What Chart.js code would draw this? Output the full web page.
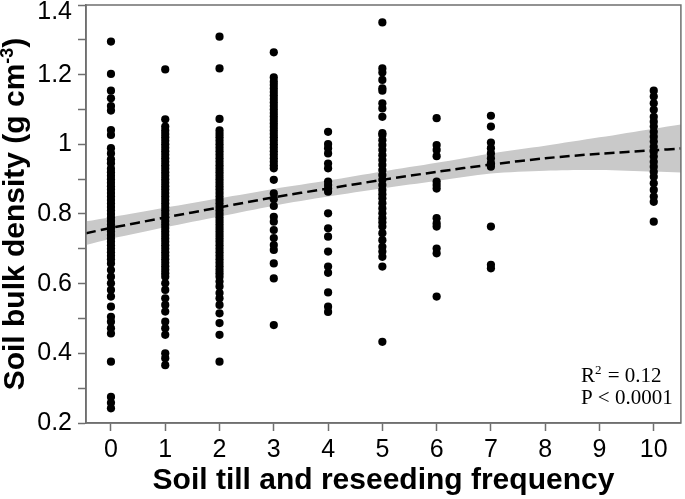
<!DOCTYPE html>
<html>
<head>
<meta charset="utf-8">
<script src="https://cdn.jsdelivr.net/npm/chart.js@4.4.1/dist/chart.umd.min.js"></script>
<style>
html,body{margin:0;padding:0;background:#fff;}
#wrap{width:685px;height:499px;position:relative;}
</style>
</head>
<body>
<div id="wrap"><canvas id="c" width="685" height="499"></canvas></div>
<script>
// ---- data ----
const frequencies = [0, 1, 2, 3, 4, 5, 6, 7, 10];

const bd0 = [1.295, 1.202, 1.154, 1.132, 1.110, 1.097, 1.041, 1.027, 0.989, 0.974, 0.957, 0.946,
  0.93, 0.92, 0.91, 0.90, 0.89, 0.88, 0.87, 0.86, 0.85, 0.84, 0.83, 0.82, 0.81, 0.80, 0.79,
  0.78, 0.77, 0.76, 0.75, 0.74, 0.73, 0.72, 0.71, 0.70, 0.69, 0.68, 0.67,
  0.658, 0.639, 0.620, 0.601, 0.582, 0.563, 0.534, 0.505, 0.491, 0.472, 0.457, 0.376, 0.275, 0.258, 0.242];
const bd1 = [1.215, 1.072, 1.051,
  1.04, 1.03, 1.02, 1.01, 1.00, 0.99, 0.98, 0.97, 0.96, 0.95, 0.94, 0.93, 0.92, 0.91, 0.90,
  0.89, 0.88, 0.87, 0.86, 0.85, 0.84, 0.83, 0.82, 0.81, 0.80, 0.79, 0.78, 0.77, 0.76, 0.75,
  0.74, 0.73, 0.72, 0.71, 0.70, 0.69, 0.68, 0.67, 0.66, 0.65, 0.64, 0.63, 0.62,
  0.601, 0.582, 0.558, 0.539, 0.520, 0.491, 0.472, 0.453, 0.400, 0.386, 0.366];
const bd2 = [1.309, 1.218, 1.073,
  1.04, 1.03, 1.02, 1.01, 1.00, 0.99, 0.98, 0.97, 0.96, 0.95, 0.94, 0.93, 0.92, 0.91, 0.90,
  0.89, 0.88, 0.87, 0.86, 0.85, 0.84, 0.83, 0.82, 0.81, 0.80, 0.79, 0.78, 0.77, 0.76, 0.75,
  0.74, 0.73, 0.72, 0.71, 0.70, 0.69, 0.68, 0.67, 0.66, 0.65, 0.64, 0.63, 0.62,
  0.606, 0.592, 0.573, 0.558, 0.539, 0.515, 0.487, 0.453, 0.376];
const bd3 = [1.264, 1.192,
  1.18, 1.17, 1.16, 1.15, 1.14, 1.13, 1.12, 1.11, 1.10, 1.09, 1.08, 1.07, 1.06, 1.05, 1.04,
  1.03, 1.02, 1.01, 1.00, 0.99, 0.98, 0.97, 0.96, 0.95, 0.94,
  0.931, 0.898, 0.859, 0.842, 0.823, 0.792, 0.778, 0.754, 0.731, 0.711, 0.697, 0.658, 0.615, 0.481];
const bd4 = [1.036, 1.001, 0.989, 0.974, 0.945, 0.931, 0.893, 0.883, 0.873, 0.864, 0.802,
  0.759, 0.735, 0.692, 0.649, 0.631, 0.575, 0.534, 0.519];
const bd5 = [1.350, 1.218, 1.206, 1.185, 1.161, 1.154, 1.118, 1.103, 1.079, 1.032, 1.027, 1.012,
  0.998, 0.984, 0.969, 0.955, 0.941, 0.926, 0.912, 0.898, 0.883, 0.869, 0.857, 0.845, 0.831,
  0.816, 0.802, 0.788, 0.776, 0.764, 0.745, 0.725, 0.706, 0.692, 0.677, 0.649, 0.433];
const bd6 = [1.075, 0.998, 0.984, 0.966, 0.893, 0.883, 0.873, 0.788, 0.773, 0.764, 0.701, 0.687, 0.563];
const bd7 = [1.082, 1.051, 1.005, 0.989, 0.974, 0.960, 0.946, 0.936, 0.764, 0.654, 0.644];
const bd10 = [1.154, 1.137, 1.118, 1.099, 1.079, 1.065, 1.051, 1.036, 1.022, 1.008, 0.993, 0.979,
  0.965, 0.950, 0.936, 0.921, 0.907, 0.888, 0.869, 0.850, 0.835, 0.778];
const bulkDensity = [bd0, bd1, bd2, bd3, bd4, bd5, bd6, bd7, bd10];

// fitted curve and its confidence band
const fitX   = [-0.46, 0, 1, 2, 3, 4, 5, 6, 7, 8, 9, 10, 10.5];
const fitY   = [0.745, 0.760, 0.790, 0.819, 0.848, 0.873, 0.898, 0.921, 0.942, 0.960, 0.973, 0.983, 0.988];
const ciLow  = [0.711, 0.729, 0.762, 0.793, 0.824, 0.850, 0.874, 0.895, 0.916, 0.924, 0.926, 0.921, 0.919];
const ciHigh = [0.779, 0.791, 0.818, 0.845, 0.872, 0.896, 0.922, 0.947, 0.974, 0.996, 1.020, 1.045, 1.057];

// axis ticks and texts
const xTickValues = [0, 1, 2, 3, 4, 5, 6, 7, 8, 9, 10];
const xTickLabels = ['0', '1', '2', '3', '4', '5', '6', '7', '8', '9', '10'];
const yTickValues = [0.2, 0.3, 0.4, 0.5, 0.6, 0.7, 0.8, 0.9, 1.0, 1.1, 1.2, 1.3, 1.4];
const yTickLabels = ['0.2', '', '0.4', '', '0.6', '', '0.8', '', '1', '', '1.2', '', '1.4'];

const xTitle = 'Soil till and reseeding frequency';
const yTitleParts = ['Soil bulk density (g cm', '-3', ')'];
const statLine1 = ['R', '2', ' = 0.12'];
const statLine2 = 'P < 0.0001';

// ---- chart ----
const SANS = '"Liberation Sans", Arial, Helvetica, sans-serif';
const SERIF = '"Liberation Serif", "Times New Roman", serif';
const AXIS_GREY = '#6f6f6f';

const points = [];
frequencies.forEach((f, i) => bulkDensity[i].forEach(v => points.push({x: f, y: v})));
const toXY = (ys) => fitX.map((x, i) => ({x: x, y: ys[i]}));

const framePlugin = {
  id: 'frameAndStats',
  afterDatasetsDraw(chart) {
    const {ctx, chartArea: a} = chart;
    ctx.save();
    ctx.strokeStyle = AXIS_GREY;
    ctx.lineWidth = 1.5;
    ctx.strokeRect(a.left, a.top, a.right - a.left, a.bottom - a.top);
    ctx.fillStyle = '#000';
    ctx.textBaseline = 'alphabetic';
    ctx.textAlign = 'left';
    const x0 = a.right - 100;
    const y1 = a.bottom - 41;
    const y2 = a.bottom - 19;
    ctx.font = '21px ' + SERIF;
    ctx.fillText(statLine1[0], x0, y1);
    let x = x0 + ctx.measureText(statLine1[0]).width;
    ctx.font = '13px ' + SERIF;
    ctx.fillText(statLine1[1], x, y1 - 8);
    x += ctx.measureText(statLine1[1]).width + 1;
    ctx.font = '21px ' + SERIF;
    ctx.fillText(statLine1[2], x, y1);
    ctx.fillText(statLine2, x0, y2);
    ctx.restore();
  },
  afterDraw(chart) {
    // y-axis title with a true superscript
    const {ctx, chartArea: a} = chart;
    const big = 'bold 30px ' + SANS;
    const small = 'bold 18px ' + SANS;
    ctx.save();
    ctx.fillStyle = '#000';
    ctx.textBaseline = 'alphabetic';
    ctx.textAlign = 'left';
    ctx.font = big;
    const w0 = ctx.measureText(yTitleParts[0]).width;
    const w2 = ctx.measureText(yTitleParts[2]).width;
    ctx.font = small;
    const w1 = ctx.measureText(yTitleParts[1]).width;
    const total = w0 + w1 + w2;
    const cy = (a.top + a.bottom) / 2;
    ctx.translate(24, cy);
    ctx.rotate(-Math.PI / 2);
    let x = -total / 2;
    ctx.font = big;
    ctx.fillText(yTitleParts[0], x, 0);
    x += w0;
    ctx.font = small;
    ctx.fillText(yTitleParts[1], x, -11);
    x += w1;
    ctx.font = big;
    ctx.fillText(yTitleParts[2], x, 0);
    ctx.restore();
  }
};

const isTopTick = (ctx) => ctx && ctx.tick && Math.abs(ctx.tick.value - 1.4) < 1e-6;

new Chart(document.getElementById('c'), {
  type: 'line',
  data: {
    datasets: [
      {
        label: 'fit',
        data: toXY(fitY),
        borderColor: '#000',
        borderWidth: 2.5,
        borderDash: [10, 5],
        pointRadius: 0,
        fill: false,
        tension: 0.3,
        order: 0
      },
      {
        label: 'samples',
        data: points,
        showLine: false,
        pointRadius: 4.1,
        pointBackgroundColor: '#000',
        pointBorderWidth: 0,
        pointBorderColor: '#000',
        order: 1
      },
      {
        label: 'ciHigh',
        data: toXY(ciHigh),
        borderColor: 'rgba(0,0,0,0)',
        borderWidth: 1,
        pointRadius: 0,
        backgroundColor: '#c9c9c9',
        fill: '+1',
        tension: 0.3,
        order: 2
      },
      {
        label: 'ciLow',
        data: toXY(ciLow),
        borderColor: 'rgba(0,0,0,0)',
        borderWidth: 1,
        pointRadius: 0,
        fill: false,
        tension: 0.3,
        order: 3
      }
    ]
  },
  options: {
    responsive: false,
    animation: false,
    devicePixelRatio: 1,
    layout: {padding: {top: 5, right: 2, left: 0, bottom: 0}},
    plugins: {legend: {display: false}, tooltip: {enabled: false}},
    scales: {
      x: {
        type: 'linear',
        min: -0.46,
        max: 10.5,
        afterBuildTicks: s => { s.ticks = xTickValues.map(v => ({value: v})); },
        afterFit: s => { s.height = 76; s.paddingLeft = 0; s.paddingRight = 0; },
        grid: {display: true, drawOnChartArea: false, tickLength: 8, tickWidth: 1.5, tickColor: AXIS_GREY},
        border: {display: true, color: AXIS_GREY, width: 1.5},
        ticks: {
          autoSkip: false,
          maxRotation: 0,
          padding: 4,
          color: '#000',
          font: {family: SANS, size: 25},
          callback: (v, i) => xTickLabels[i]
        },
        title: {
          display: true,
          text: xTitle,
          color: '#000',
          font: {family: SANS, size: 30, weight: 'bold', lineHeight: 1.2},
          padding: {top: 0, bottom: 0}
        }
      },
      y: {
        type: 'linear',
        min: 0.2,
        max: 1.4,
        afterBuildTicks: s => { s.ticks = yTickValues.map(v => ({value: v})); },
        afterFit: s => { s.width = 86; s.paddingTop = 0; s.paddingBottom = 0; },
        grid: {display: true, drawOnChartArea: false, tickLength: 8, tickWidth: 1.5, tickColor: AXIS_GREY},
        border: {display: true, color: AXIS_GREY, width: 1.5},
        ticks: {
          autoSkip: false,
          padding: 6,
          color: '#000',
          font: ctx => ({family: SANS, size: 25, lineHeight: isTopTick(ctx) ? 0.56 : 1.2}),
          callback: (v, i) => (i === yTickLabels.length - 1 ? ['', yTickLabels[i]] : yTickLabels[i])
        },
        title: {display: false}
      }
    }
  },
  plugins: [framePlugin]
});
</script>
</body>
</html>
